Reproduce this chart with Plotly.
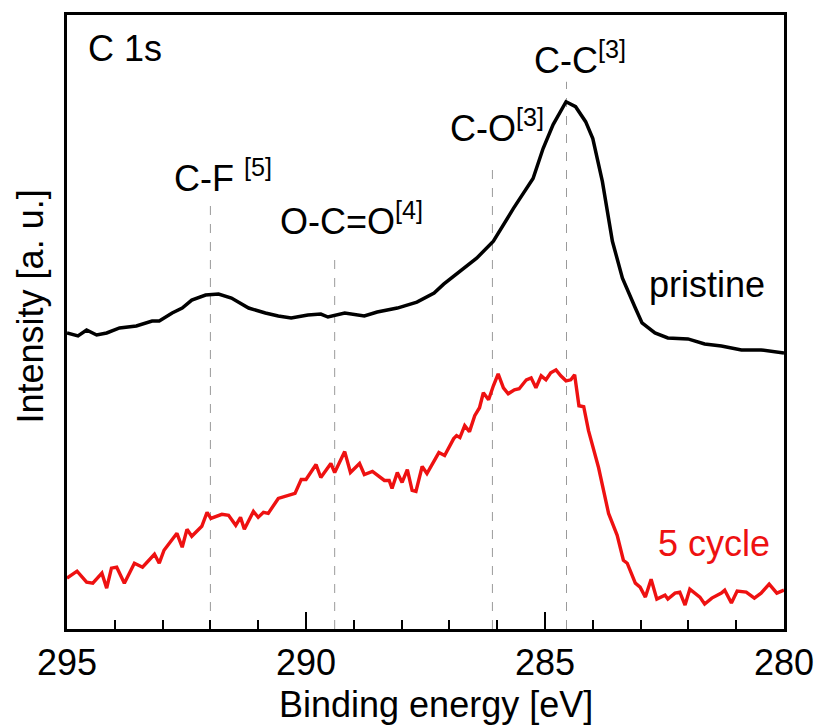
import plotly.graph_objects as go

# ---------------- data ----------------
pristine_E = [295.00, 294.77, 294.59, 294.38, 294.17, 293.90, 293.55, 293.22, 293.07, 292.80,
              292.59, 292.39, 292.10, 291.83, 291.56, 291.20, 290.85, 290.58, 290.31, 289.96,
              289.69, 289.54, 289.19, 288.78, 288.51, 288.09, 287.68, 287.32, 287.12, 286.85,
              286.43, 286.08, 285.66, 285.25, 285.04, 284.83, 284.56, 284.36, 284.15, 284.00,
              283.80, 283.59, 283.38, 283.11, 282.97, 282.70, 282.43, 282.01, 281.66, 281.31,
              280.89, 280.48, 280.00]
pristine_I = [297, 294, 300, 295, 297, 302, 304, 309, 309, 317,
              322, 330, 335, 336, 332, 322, 317, 314, 312, 315,
              316, 313, 317, 314, 318, 322, 328, 337, 346, 356,
              372, 389, 422, 452, 482, 506, 529, 524, 509, 492,
              449, 389, 352, 322, 307, 297, 292, 291, 286, 284,
              280, 280, 277]

cycle5_E = [295.00, 294.79, 294.59, 294.46, 294.27, 294.17, 294.07, 293.96, 293.80, 293.59,
            293.42, 293.17, 293.07, 292.97, 292.70, 292.59, 292.49, 292.39, 292.18, 292.07,
            291.99, 291.76, 291.62, 291.47, 291.37, 291.29, 291.10, 291.00, 290.89, 290.79,
            290.58, 290.37, 290.23, 290.10, 290.00, 289.79, 289.69, 289.48, 289.40, 289.19,
            289.07, 288.88, 288.78, 288.61, 288.36, 288.26, 288.20, 288.09, 287.99, 287.88,
            287.78, 287.70, 287.57, 287.47, 287.22, 287.10, 286.91, 286.85, 286.78, 286.68,
            286.58, 286.47, 286.37, 286.29, 286.18, 286.08, 285.98, 285.87, 285.77, 285.64,
            285.54, 285.39, 285.29, 285.19, 285.08, 284.98, 284.88, 284.77, 284.67, 284.56,
            284.46, 284.38, 284.29, 284.19, 284.09, 283.88, 283.67, 283.49, 283.36, 283.28,
            283.11, 283.01, 282.90, 282.78, 282.66, 282.49, 282.43, 282.28, 282.18, 282.07,
            281.97, 281.76, 281.66, 281.51, 281.31, 281.24, 281.10, 280.98, 280.79, 280.62,
            280.48, 280.31, 280.15, 280.00]
cycle5_I = [51, 58, 47, 46, 56, 41, 61, 62, 46, 66,
            62, 75, 66, 79, 96, 82, 100, 93, 103, 117,
            111, 115, 114, 104, 112, 100, 118, 112, 117, 116,
            131, 134, 136, 150, 150, 165, 152, 166, 157, 178,
            157, 166, 155, 158, 149, 149, 141, 157, 147, 160,
            139, 138, 163, 156, 177, 174, 191, 194, 192, 204,
            198, 214, 222, 237, 230, 244, 256, 242, 236, 240,
            241, 250, 252, 242, 254, 250, 257, 260, 254, 249,
            250, 255, 224, 223, 199, 162, 116, 94, 69, 66,
            46, 42, 32, 50, 30, 34, 30, 36, 37, 24,
            40, 32, 25, 31, 36, 39, 26, 38, 37, 31,
            36, 45, 36, 39]

peak_names = ["C-F <sup>[5]</sup>", "O-C=O<sup>[4]</sup>", "C-O<sup>[3]</sup>", "C-C<sup>[3]</sup>"]
peak_E = [292.0, 289.4, 286.1, 284.55]
peak_line_top = [429, 371, 463, 549]

series_names = ["pristine", "5 cycle"]
x_ticks = [295, 290, 285, 280]

# ---------------- figure ----------------
FONT = "Arial, Liberation Sans, sans-serif"
RED = "#ee1111"
FS = 36

L, R, T, B = 67, 34, 13, 98
W, H = 826, 727
pw, ph = W - L - R, H - T - B

fig = go.Figure()
fig.add_trace(go.Scatter(x=pristine_E, y=pristine_I, mode="lines",
                         line=dict(color="black", width=3.5), name=series_names[0],
                         showlegend=False))
fig.add_trace(go.Scatter(x=cycle5_E, y=cycle5_I, mode="lines",
                         line=dict(color=RED, width=3.4), name=series_names[1],
                         showlegend=False))

for e, top in zip(peak_E, peak_line_top):
    fig.add_shape(type="line", xref="x", yref="y", x0=e, x1=e, y0=0, y1=top,
                  line=dict(color="#9a9a9a", width=1, dash="dash"), layer="below")

label_pos = [(291.73, 454), (289.05, 411), (286.01, 505), (284.27, 573)]
for name, (lx, ly) in zip(peak_names, label_pos):
    fig.add_annotation(x=lx, y=ly, xref="x", yref="y", text=name, showarrow=False,
                       xanchor="center", yanchor="middle",
                       font=dict(family=FONT, size=FS, color="black"))

fig.add_annotation(x=293.79, y=582, xref="x", yref="y", text="C 1s", showarrow=False,
                   xanchor="center", yanchor="middle", font=dict(family=FONT, size=FS, color="black"))
fig.add_annotation(x=281.61, y=346, xref="x", yref="y", text=series_names[0], showarrow=False,
                   xanchor="center", yanchor="middle", font=dict(family=FONT, size=FS, color="black"))
fig.add_annotation(x=281.47, y=86, xref="x", yref="y", text=series_names[1], showarrow=False,
                   xanchor="center", yanchor="middle", font=dict(family=FONT, size=FS, color=RED))

# axis titles as annotations (pixel positions converted to paper coordinates)
fig.add_annotation(x=(440 - L) / pw, y=(H - B - 705) / ph, xref="paper", yref="paper",
                   text="Binding energy [eV]", showarrow=False, xanchor="center", yanchor="middle",
                   font=dict(family=FONT, size=FS, color="black"))
fig.add_annotation(x=(30 - L) / pw, y=(H - B - 305) / ph, xref="paper", yref="paper",
                   text="Intensity [a. u.]", showarrow=False, textangle=-90,
                   xanchor="center", yanchor="middle",
                   font=dict(family=FONT, size=FS, color="black"))

fig.update_layout(
    width=W, height=H,
    margin=dict(l=L, r=R, t=T, b=B),
    plot_bgcolor="white", paper_bgcolor="white",
    font=dict(family=FONT, size=FS, color="black"),
    xaxis=dict(range=[295, 280], tickvals=x_ticks, ticks="inside", ticklen=17, tickwidth=2,
               tickcolor="black", showline=True, linecolor="black", linewidth=2.5, mirror=True,
               showgrid=False, zeroline=False, ticklabelstandoff=0,
               tickfont=dict(family=FONT, size=FS, color="black"),
               minor=dict(dtick=1, ticks="inside", ticklen=9, tickwidth=2, tickcolor="black",
                          showgrid=False)),
    yaxis=dict(range=[0, 616], showticklabels=False, ticks="", showline=True, linecolor="black",
               linewidth=2.5, mirror=True, showgrid=False, zeroline=False),
)

fig.write_html("out.html")
